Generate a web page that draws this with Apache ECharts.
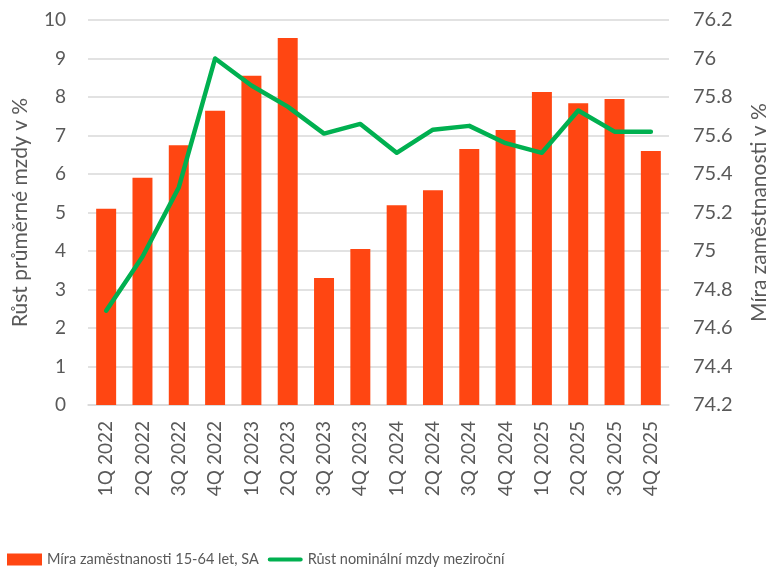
<!DOCTYPE html>
<html>
<head>
<meta charset="utf-8">
<script src="https://cdn.jsdelivr.net/npm/echarts@6/dist/echarts.min.js"></script>
<style>
  html, body { margin: 0; padding: 0; background: #fff; }
  #main { width: 770px; height: 577px; }
</style>
</head>
<body>
<div id="main"></div>
<script>
// kvartaly
var quarters = ["1Q 2022", "2Q 2022", "3Q 2022", "4Q 2022", "1Q 2023", "2Q 2023", "3Q 2023", "4Q 2023",
  "1Q 2024", "2Q 2024", "3Q 2024", "4Q 2024", "1Q 2025", "2Q 2025", "3Q 2025", "4Q 2025"];
// sloupce (leva osa)
var barValues = [5.1, 5.9, 6.75, 7.64, 8.55, 9.53, 3.3, 4.05, 5.19, 5.58, 6.65, 7.14, 8.13, 7.84, 7.95, 6.6];
// cara (prava osa)
var lineValues = [74.69, 74.97, 75.33, 76.0, 75.86, 75.75, 75.61, 75.66, 75.51, 75.63, 75.65, 75.56, 75.51, 75.73, 75.62, 75.62];

var barName = "Míra zaměstnanosti 15-64 let, SA";
var lineName = "Růst nominální mzdy meziroční";
var fontFam = "Lato, 'Open Sans', sans-serif";

var myChart = echarts.init(document.getElementById("main"));
var option = {
  animation: false,
  textStyle: { fontFamily: fontFam },
  grid: { left: 88, right: 101, top: 20, bottom: 172, outerBoundsMode: "none" },
  legend: {
    bottom: 5,
    left: 2,
    itemGap: 9,
    itemWidth: 35,
    itemHeight: 12,
    textStyle: { fontSize: 14.5, color: "#595959", fontFamily: fontFam },
    data: [
      { name: barName, icon: "rect" },
      { name: lineName, icon: "path://M2,0h34a2,2 0 0 1 0,4.5h-34a2,2 0 0 1 0,-4.5z" }
    ]
  },
  xAxis: {
    type: "category",
    data: quarters,
    axisTick: { show: false },
    axisLine: { lineStyle: { color: "#D9D9D9", width: 1.5 } },
    axisLabel: { rotate: 90, interval: 0, margin: 16, fontSize: 19, color: "#595959" }
  },
  yAxis: [
    {
      type: "value",
      min: 0,
      max: 10,
      interval: 1,
      name: "Růst průměrné mzdy v %",
      nameLocation: "middle",
      nameRotate: 90,
      nameGap: 57,
      nameTextStyle: { fontSize: 21, color: "#595959" },
      axisLabel: { fontSize: 19, color: "#595959", margin: 22 },
      splitLine: { lineStyle: { color: "#D9D9D9", width: 1.5 } }
    },
    {
      type: "value",
      min: 74.2,
      max: 76.2,
      interval: 0.2,
      name: "Míra zaměstnanosti v %",
      nameLocation: "middle",
      nameRotate: 90,
      nameGap: 80,
      nameTextStyle: { fontSize: 21, color: "#595959" },
      axisLabel: {
        fontSize: 20, color: "#595959", margin: 24,
        formatter: function (v) { return String(parseFloat(v.toFixed(1))); }
      },
      splitLine: { show: false }
    }
  ],
  series: [
    {
      name: barName,
      type: "bar",
      yAxisIndex: 0,
      data: barValues,
      barWidth: "55%",
      itemStyle: { color: "#FF4612" }
    },
    {
      name: lineName,
      type: "line",
      yAxisIndex: 1,
      data: lineValues,
      symbol: "none",
      lineStyle: { color: "#00B050", width: 4.5, cap: "round", join: "round" },
      itemStyle: { color: "#00B050" }
    }
  ]
};
myChart.setOption(option);
</script>
</body>
</html>
